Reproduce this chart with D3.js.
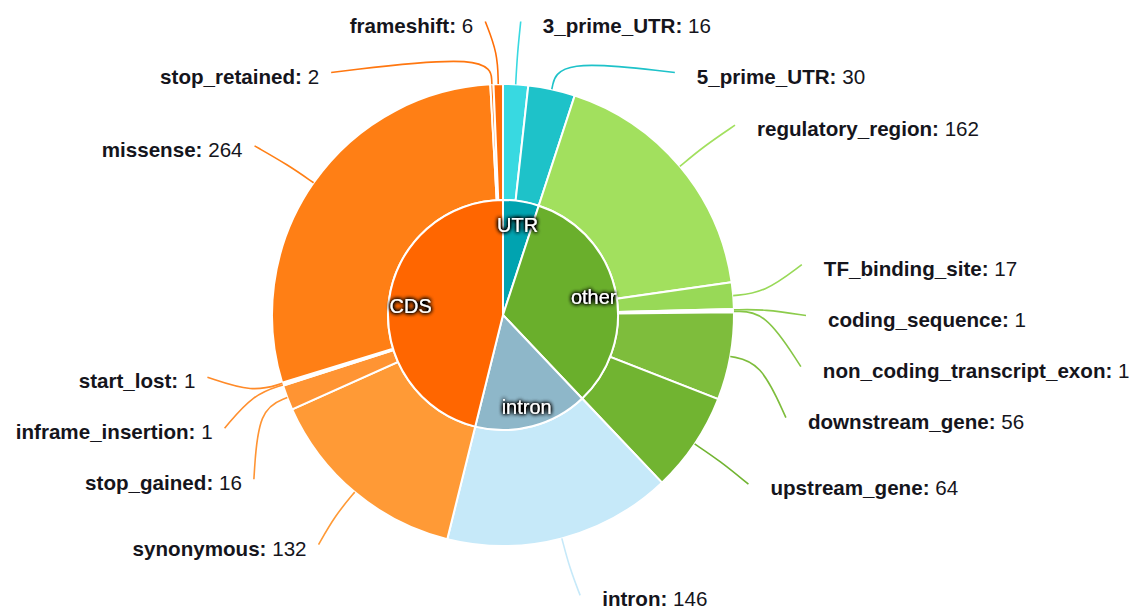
<!DOCTYPE html>
<html><head><meta charset="utf-8">
<script src="https://cdn.jsdelivr.net/npm/d3@7"></script>
<style>
html,body{margin:0;padding:0;background:#fff;}
svg{display:block;}
text{font-family:"Liberation Sans",Arial,Helvetica,sans-serif;}
</style></head><body>
<svg id="chart" width="1138" height="612"></svg>
<script>
// ---- data ----
const groups = ["UTR", "other", "intron", "CDS"];
const groupColors = ["#00a3b0", "#6aaf2c", "#8eb7c9", "#ff6600"];
const categories = ["3_prime_UTR","5_prime_UTR","regulatory_region","TF_binding_site","coding_sequence","non_coding_transcript_exon","downstream_gene","upstream_gene","intron","synonymous","stop_gained","inframe_insertion","start_lost","missense","stop_retained","frameshift"];
const categoryGroup = ["UTR","UTR","other","other","other","other","other","other","intron","CDS","CDS","CDS","CDS","CDS","CDS","CDS"];
const counts = [16, 30, 162, 17, 1, 1, 56, 64, 146, 132, 16, 1, 1, 264, 2, 6];
const categoryColors = ["#38d9e1","#1ec2c9","#a2e05e","#98d957","#8ccc4c","#86c646","#7ebd3c","#71b431","#c6e9f9","#ff9a36","#ff9433","#ff8f2e","#ff8a28","#ff7f15","#ff7710","#ff6e08"];

// ---- layout ----
const cx = 503, cy = 315;
const rIn = 115, rOut = 231, rMid = 262;
const lrx = 303, lry = 292, lcy = -2;   // label ellipse
const gap = 51;

const svg = d3.select("#chart");
const defs = svg.append("defs");
const f = defs.append("filter").attr("id","shadow").attr("x","-30%").attr("y","-50%").attr("width","160%").attr("height","200%");
f.append("feGaussianBlur").attr("in","SourceAlpha").attr("stdDeviation",2.2).attr("result","b");
f.append("feComponentTransfer").attr("in","b").attr("result","b2")
  .append("feFuncA").attr("type","linear").attr("slope",2.8);
const fm = f.append("feMerge");
fm.append("feMergeNode").attr("in","b2");
fm.append("feMergeNode").attr("in","SourceGraphic");

const g = svg.append("g").attr("transform", `translate(${cx},${cy})`);

const groupTotals = groups.map(gr => d3.sum(counts.filter((c,i) => categoryGroup[i] === gr)));

const pie = d3.pie().sort(null).value(d => d);
const outerData = pie(counts);
const innerData = pie(groupTotals);

const arcOuter = d3.arc().innerRadius(rIn).outerRadius(rOut);
const arcInner = d3.arc().innerRadius(0).outerRadius(rIn);

g.selectAll("path.outer").data(outerData).join("path")
  .attr("class","outer")
  .attr("d", arcOuter)
  .attr("fill", (d,i) => categoryColors[i])
  .attr("stroke", "#fff").attr("stroke-width", 2);

g.selectAll("path.inner").data(innerData).join("path")
  .attr("class","inner")
  .attr("d", arcInner)
  .attr("fill", (d,i) => groupColors[i])
  .attr("stroke", "#fff").attr("stroke-width", 2);

const pt = (a, r) => [r * Math.sin(a), -r * Math.cos(a)];

// inner labels
g.selectAll("text.inner").data(innerData).join("text")
  .attr("class","inner")
  .attr("x", d => pt((d.startAngle+d.endAngle)/2, 93)[0])
  .attr("y", d => pt((d.startAngle+d.endAngle)/2, 93)[1] + 2)
  .attr("text-anchor","middle")
  .attr("dominant-baseline","central")
  .attr("fill","#fff")
  .attr("font-size", 20)
  .attr("filter","url(#shadow)")
  .text((d,i) => groups[i]);

// outer label placement: average of a downward sweep and a centred relaxation
const labels = outerData.map((d,i) => {
  const a = (d.startAngle + d.endAngle) / 2;
  return { i, a, side: a < Math.PI ? 1 : -1, y0: lcy - lry * Math.cos(a) };
});
const lo = lcy - lry + 0.5, hi = lcy + lry - 0.5;
const clamp = v => Math.max(lo, Math.min(hi, v));
[1, -1].forEach(side => {
  const arr = labels.filter(l => l.side === side).sort((p, q) => p.y0 - q.y0);
  const n = arr.length;
  const s = arr.map(l => clamp(l.y0));
  for (let j = 1; j < n; j++) s[j] = Math.max(s[j], s[j-1] + gap);
  if (s[n-1] > hi) { s[n-1] = hi; for (let j = n-2; j >= 0; j--) s[j] = Math.min(s[j], s[j+1] - gap); }
  const c = arr.map(l => l.y0);
  for (let it = 0; it < 600; it++) {
    for (let j = 1; j < n; j++) {
      const dy = c[j] - c[j-1];
      if (dy < gap) { const sh = (gap - dy) / 2; c[j-1] -= sh; c[j] += sh; }
    }
    for (let j = 0; j < n; j++) c[j] = clamp(c[j]);
  }
  arr.forEach((l, j) => { l.y = (s[j] + c[j]) / 2; });
});
labels.forEach(l => {
  const u = (l.y - lcy) / lry;
  l.x = l.side * lrx * Math.sqrt(Math.max(0, 1 - u*u));
});

const line = d3.line().curve(d3.curveBasis);
g.selectAll("path.lbl").data(labels).join("path")
  .attr("class","lbl")
  .attr("d", l => line([pt(l.a, rOut), pt(l.a, rMid), [l.x, l.y]]))
  .attr("fill","none")
  .attr("stroke", l => categoryColors[l.i])
  .attr("stroke-width", 1.6);

const t = g.selectAll("text.outer").data(labels).join("text")
  .attr("class","outer")
  .attr("x", l => l.side > 0 ? l.x + 22 : l.x - 12)
  .attr("y", l => l.y + 11)
  .attr("text-anchor", l => l.side > 0 ? "start" : "end")
  .attr("font-size", 20.6)
  .attr("fill", "#15151c");
t.append("tspan").attr("font-weight","bold").text(l => categories[l.i] + ":");
t.append("tspan").text(l => " " + counts[l.i]);
</script>
</body></html>
